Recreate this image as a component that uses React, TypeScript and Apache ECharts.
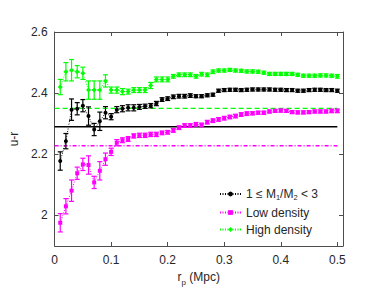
import React, { useEffect, useRef } from "react";
import * as echarts from "echarts";

const rp = [
  0.01, 0.02, 0.03, 0.04, 0.05, 0.06, 0.07, 0.08, 0.09, 0.1,
  0.11, 0.12, 0.13, 0.14, 0.15, 0.16, 0.17, 0.18, 0.19, 0.2,
  0.21, 0.22, 0.23, 0.24, 0.25, 0.26, 0.27, 0.28, 0.29, 0.3,
  0.31, 0.32, 0.33, 0.34, 0.35, 0.36, 0.37, 0.38, 0.39, 0.4,
  0.41, 0.42, 0.43, 0.44, 0.45, 0.46, 0.47, 0.48, 0.49, 0.5,
];

const massRatio = [
  2.178, 2.243, 2.346, 2.349, 2.359, 2.325, 2.281, 2.308, 2.336, 2.323,
  2.346, 2.349, 2.352, 2.352, 2.355, 2.357, 2.359, 2.366, 2.379, 2.382,
  2.388, 2.39, 2.39, 2.392, 2.39, 2.39, 2.393, 2.395, 2.408, 2.41,
  2.411, 2.411, 2.41, 2.411, 2.412, 2.412, 2.412, 2.412, 2.411, 2.411,
  2.41, 2.41, 2.408, 2.408, 2.41, 2.411, 2.411, 2.41, 2.41, 2.408,
];
const massRatioErr = [
  0.03, 0.025, 0.035, 0.02, 0.02, 0.03, 0.02, 0.03, 0.02, 0.01,
  0.01, 0.01, 0.01, 0.01, 0.008, 0.007, 0.007, 0.007, 0.006, 0.006,
  0.006, 0.006, 0.006, 0.006, 0.005, 0.005, 0.005, 0.005, 0.005, 0.005,
  0.005, 0.005, 0.005, 0.005, 0.005, 0.005, 0.005, 0.005, 0.005, 0.005,
  0.005, 0.005, 0.005, 0.005, 0.005, 0.005, 0.005, 0.005, 0.005, 0.005,
];

const lowDensity = [
  1.976, 2.03, 2.081, 2.138, 2.167, 2.165, 2.108, 2.146, 2.184, 2.208,
  2.238, 2.246, 2.25, 2.26, 2.262, 2.262, 2.265, 2.265, 2.27, 2.272,
  2.278, 2.287, 2.294, 2.294, 2.298, 2.296, 2.305, 2.31, 2.314, 2.318,
  2.322, 2.325, 2.33, 2.333, 2.334, 2.336, 2.336, 2.34, 2.342, 2.343,
  2.342, 2.338, 2.337, 2.337, 2.338, 2.34, 2.34, 2.34, 2.342, 2.342,
];
const lowDensityErr = [
  0.03, 0.025, 0.035, 0.02, 0.02, 0.03, 0.02, 0.03, 0.02, 0.012,
  0.01, 0.008, 0.008, 0.007, 0.007, 0.007, 0.007, 0.007, 0.006, 0.006,
  0.006, 0.006, 0.006, 0.006, 0.006, 0.006, 0.006, 0.006, 0.006, 0.006,
  0.006, 0.006, 0.006, 0.006, 0.005, 0.005, 0.005, 0.005, 0.005, 0.005,
  0.005, 0.005, 0.005, 0.005, 0.005, 0.005, 0.005, 0.005, 0.006, 0.006,
];

const highDensity = [
  2.42, 2.47, 2.475, 2.47, 2.465, 2.41, 2.41, 2.41, 2.44, 2.41,
  2.41, 2.405, 2.405, 2.41, 2.41, 2.41, 2.425, 2.445, 2.445, 2.445,
  2.455, 2.46, 2.46, 2.46, 2.455, 2.462, 2.46, 2.47, 2.474, 2.474,
  2.476, 2.474, 2.473, 2.471, 2.471, 2.47, 2.467, 2.463, 2.463, 2.463,
  2.463, 2.463, 2.46, 2.457, 2.457, 2.457, 2.458, 2.458, 2.457, 2.455,
];
const highDensityErr = [
  0.025, 0.03, 0.035, 0.02, 0.02, 0.03, 0.03, 0.03, 0.02, 0.01,
  0.01, 0.01, 0.008, 0.008, 0.008, 0.008, 0.01, 0.008, 0.008, 0.008,
  0.006, 0.006, 0.006, 0.006, 0.006, 0.006, 0.006, 0.006, 0.005, 0.005,
  0.005, 0.005, 0.005, 0.005, 0.005, 0.005, 0.005, 0.005, 0.005, 0.005,
  0.005, 0.005, 0.005, 0.005, 0.005, 0.005, 0.005, 0.005, 0.005, 0.006,
];

const refLineX = [0, 0.5];
const refHigh = 2.35;
const refMass = 2.29;
const refLow = 2.228;

const xTicks = [0, 0.1, 0.2, 0.3, 0.4, 0.5];
const yTicks = [2, 2.2, 2.4, 2.6];

const seriesNames = ["1 ≤ M1/M2 < 3", "Low density", "High density"];

const FONT = "Liberation Sans, Arial, Helvetica, sans-serif";
const TXT = "#262626";
const AX = "#4d4d4d";
const GREEN = "#00ff00";
const MAGENTA = "#ff00ff";

function errSeries(name: string, vals: number[], errs: number[], color: string) {
  return {
    type: "custom",
    name,
    data: rp.map((x, i) => [x, vals[i] - errs[i], vals[i] + errs[i]]),
    encode: { x: 0, y: [1, 2] },
    z: 3,
    renderItem: (_p: any, api: any) => {
      const x = api.value(0);
      const lo = api.coord([x, api.value(1)]);
      const hi = api.coord([x, api.value(2)]);
      const w = 2.5;
      const st = { stroke: color, lineWidth: 1.2 };
      return {
        type: "group",
        children: [
          { type: "line", shape: { x1: lo[0], y1: lo[1], x2: hi[0], y2: hi[1] }, style: st },
          { type: "line", shape: { x1: lo[0] - w, y1: lo[1], x2: lo[0] + w, y2: lo[1] }, style: st },
          { type: "line", shape: { x1: hi[0] - w, y1: hi[1], x2: hi[0] + w, y2: hi[1] }, style: st },
        ],
      };
    },
  };
}

function refLine(y: number, color: string, type: any, width: number) {
  return {
    type: "line",
    data: refLineX.map((x) => [x, y]),
    symbol: "none",
    silent: true,
    z: 1,
    lineStyle: { color, width, type },
  };
}

export default function App() {
  const ref = useRef<HTMLDivElement>(null);
  useEffect(() => {
    if (!ref.current) return;
    const chart = echarts.init(ref.current, undefined, { renderer: "svg" });
    const axisCommon = {
      type: "value",
      axisLine: { show: true, onZero: false, lineStyle: { color: AX, width: 1 } },
      splitLine: { show: false },
    };
    chart.setOption({
      animation: false,
      textStyle: { fontFamily: FONT },
      grid: { left: 51, right: 39, top: 32, bottom: 59 },
      legend: {
        data: seriesNames,
        orient: "vertical",
        left: 214,
        top: 183,
        itemWidth: 21,
        itemHeight: 6,
        itemGap: 5,
        textStyle: {
          fontFamily: FONT,
          fontSize: 12,
          color: TXT,
          rich: {
            t: { fontSize: 12, color: TXT, lineHeight: 12, verticalAlign: "middle" },
            s: { fontSize: 7.5, color: TXT, lineHeight: 15, verticalAlign: "bottom" },
          },
        },
        formatter: (n: string) =>
          n === seriesNames[0] ? "{t|1 ≤ M}{s|1}{t|/M}{s|2}{t| < 3}" : n,
      },
      xAxis: [
        {
          ...axisCommon,
          min: 0,
          max: 0.51,
          position: "bottom",
          axisTick: { inside: true, length: 4, lineStyle: { color: AX }, customValues: xTicks },
          axisLabel: {
            color: TXT,
            fontSize: 12,
            margin: 8,
            customValues: xTicks,
            formatter: (v: number) => String(+v.toFixed(2)),
          },
          name: "{a|r}{s|p}{a| (Mpc)}",
          nameLocation: "middle",
          nameGap: 19,
          nameTextStyle: {
            rich: {
              a: { fontSize: 12, color: TXT, fontFamily: FONT, lineHeight: 14, verticalAlign: "middle" },
              s: { fontSize: 8, color: TXT, fontFamily: FONT, lineHeight: 20, verticalAlign: "bottom" },
            },
          },
        },
        {
          ...axisCommon,
          min: 0,
          max: 0.51,
          position: "top",
          axisTick: { inside: true, length: 4, lineStyle: { color: AX }, customValues: xTicks },
          axisLabel: { show: false },
        },
      ],
      yAxis: [
        {
          ...axisCommon,
          min: 1.9,
          max: 2.6,
          position: "left",
          axisTick: { inside: true, length: 4, lineStyle: { color: AX }, customValues: yTicks },
          axisLabel: {
            color: TXT,
            fontSize: 12,
            margin: 7,
            customValues: yTicks,
            formatter: (v: number) => String(+v.toFixed(2)),
          },
          name: "u-r",
          nameLocation: "middle",
          nameGap: 31,
          nameTextStyle: { color: TXT, fontSize: 12, fontFamily: FONT },
        },
        {
          ...axisCommon,
          min: 1.9,
          max: 2.6,
          position: "right",
          axisTick: { inside: true, length: 4, lineStyle: { color: AX }, customValues: yTicks },
          axisLabel: { show: false },
        },
      ],
      series: [
        refLine(refMass, "#000000", "solid", 1.5),
        refLine(refHigh, GREEN, [5, 3], 1.3),
        refLine(refLow, MAGENTA, [4, 2, 1, 2], 1.3),
        errSeries("errMass", massRatio, massRatioErr, "#000000"),
        errSeries("errLow", lowDensity, lowDensityErr, MAGENTA),
        errSeries("errHigh", highDensity, highDensityErr, GREEN),
        {
          type: "line",
          name: seriesNames[0],
          data: rp.map((x, i) => [x, massRatio[i]]),
          symbol: "circle",
          symbolSize: 4,
          z: 4,
          itemStyle: { color: "#000000" },
          lineStyle: { color: "#000000", width: 1, type: [1, 1.5] },
        },
        {
          type: "line",
          name: seriesNames[1],
          data: rp.map((x, i) => [x, lowDensity[i]]),
          symbol: "rect",
          symbolSize: 4,
          z: 4,
          itemStyle: { color: MAGENTA },
          lineStyle: { color: MAGENTA, width: 1, type: [1, 1.5] },
        },
        {
          type: "line",
          name: seriesNames[2],
          data: rp.map((x, i) => [x, highDensity[i]]),
          symbol: "diamond",
          symbolSize: 5,
          z: 4,
          itemStyle: { color: GREEN },
          lineStyle: { color: GREEN, width: 1, type: [1, 1.5] },
        },
      ],
    });
    return () => chart.dispose();
  }, []);
  return (
    <div
      ref={ref}
      style={{ position: "fixed", left: 0, top: 0, width: 382, height: 305, background: "#fff" }}
    />
  );
}
